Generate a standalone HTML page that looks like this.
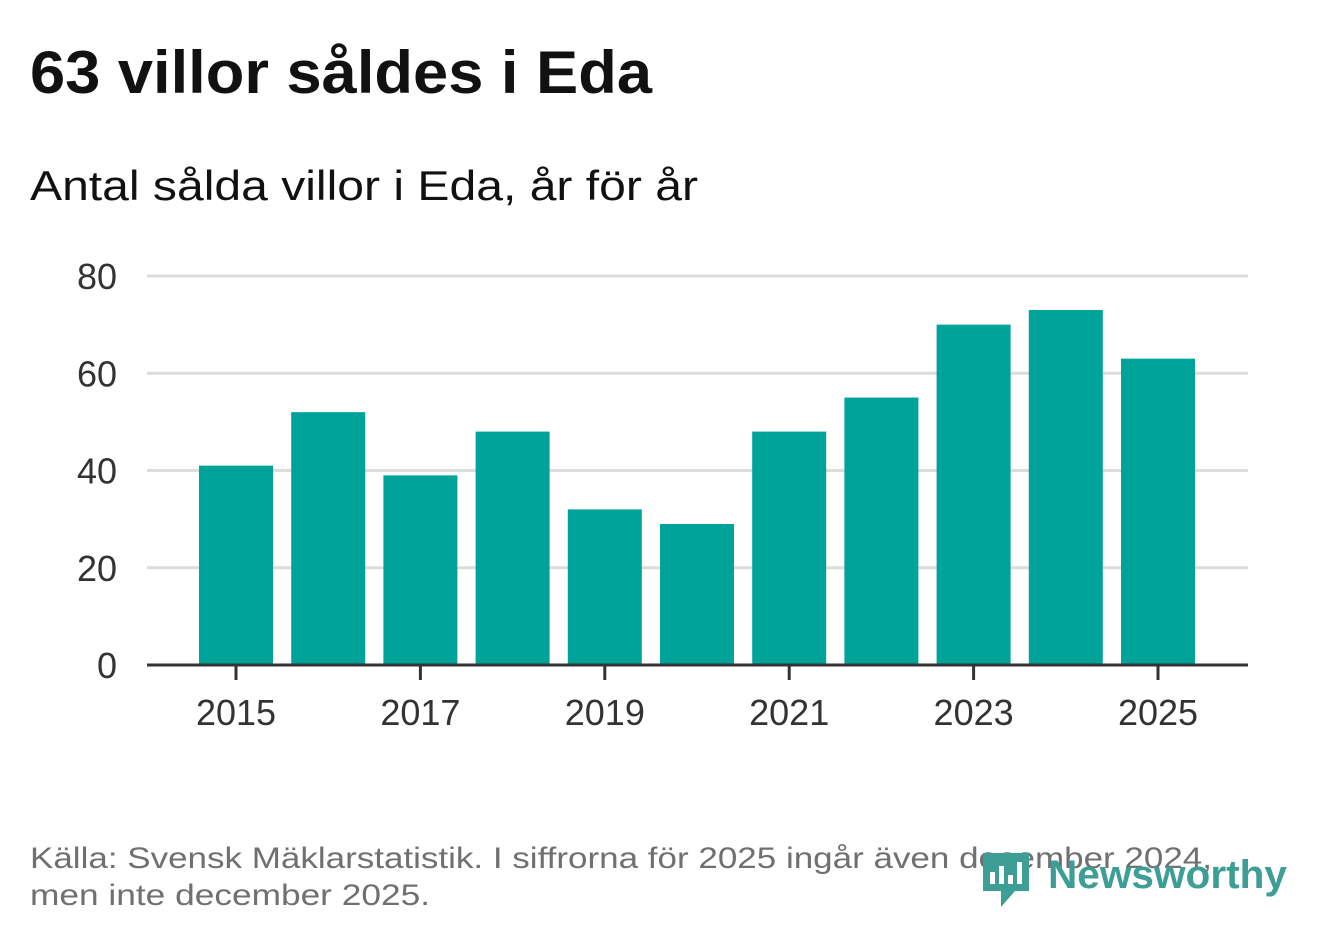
<!DOCTYPE html>
<html><head><meta charset="utf-8"><style>
body{margin:0;background:#fff;width:1322px;height:939px;overflow:hidden}
svg{font-family:"Liberation Sans",sans-serif}
</style></head><body>
<svg id="chart" width="1322" height="939" xmlns="http://www.w3.org/2000/svg">
<text x="30" y="93" font-size="60" font-weight="bold" fill="#111" textLength="622" lengthAdjust="spacingAndGlyphs">63 villor såldes i Eda</text>
<text x="30" y="200" font-size="42" fill="#111" textLength="668" lengthAdjust="spacingAndGlyphs">Antal sålda villor i Eda, år för år</text>
<g id="grid"></g>
<g id="bars"></g>
<g id="xaxis"></g>
<text x="30" y="868" font-size="30" fill="#707070" textLength="1182" lengthAdjust="spacingAndGlyphs">Källa: Svensk Mäklarstatistik. I siffrorna för 2025 ingår även december 2024,</text>
<text x="30" y="905" font-size="30" fill="#707070" textLength="400" lengthAdjust="spacingAndGlyphs">men inte december 2025.</text>
<g>
<path d="M983 853 h46 v38 h-14 l-14 16 v-16 h-18 z" fill="#3d9e96"/>
<rect x="990" y="872" width="5" height="12" fill="#fff"/>
<rect x="999" y="866" width="5" height="18" fill="#fff"/>
<rect x="1008" y="875" width="5" height="9" fill="#fff"/>
<rect x="1017" y="862" width="5" height="22" fill="#fff"/>
<text x="1048" y="888" font-size="40" font-weight="bold" fill="#3d9e96" textLength="239" lengthAdjust="spacingAndGlyphs">Newsworthy</text>
</g>
</svg>
<script>
const years=[2015,2016,2017,2018,2019,2020,2021,2022,2023,2024,2025];
const values=[41,52,39,48,32,29,48,55,70,73,63];
const yTicks=[0,20,40,60,80];
const xTickLabels=[2015,2017,2019,2021,2023,2025];
const NS="http://www.w3.org/2000/svg";
const y=v=>665-v*389/80;
const x=yr=>236+(yr-2015)*92.2;
const bw=74;
function mk(t,a,p){const e=document.createElementNS(NS,t);for(const k in a)e.setAttribute(k,a[k]);p.appendChild(e);return e;}
const g=document.getElementById('grid');
yTicks.forEach(v=>{
 if(v>0){const l=mk('line',{x1:147,x2:1248,y1:y(v),y2:y(v),stroke:'#dcdcdc','stroke-width':3},g);
 
 }
 const t=mk('text',{x:117,y:y(v)+13,'font-size':36,fill:'#333','text-anchor':'end'},g);
 t.textContent=v;
 
 
});
const b=document.getElementById('bars');
years.forEach((yr,i)=>{
 const r=mk('rect',{x:x(yr)-bw/2,y:y(values[i]),width:bw,height:665-y(values[i]),fill:'#00a39a'},b);
 
 
});
const xa=document.getElementById('xaxis');
const al=mk('line',{x1:147,x2:1248,y1:665,y2:665,stroke:'#333','stroke-width':3},xa);


xTickLabels.forEach(yr=>{
 const tk=mk('line',{x1:x(yr),x2:x(yr),y1:665,y2:680,stroke:'#333','stroke-width':3},xa);
 
 
 const t=mk('text',{x:x(yr),y:725,'font-size':36,fill:'#333','text-anchor':'middle'},xa);
 t.textContent=yr;
 
 
});
</script>
</body></html>
